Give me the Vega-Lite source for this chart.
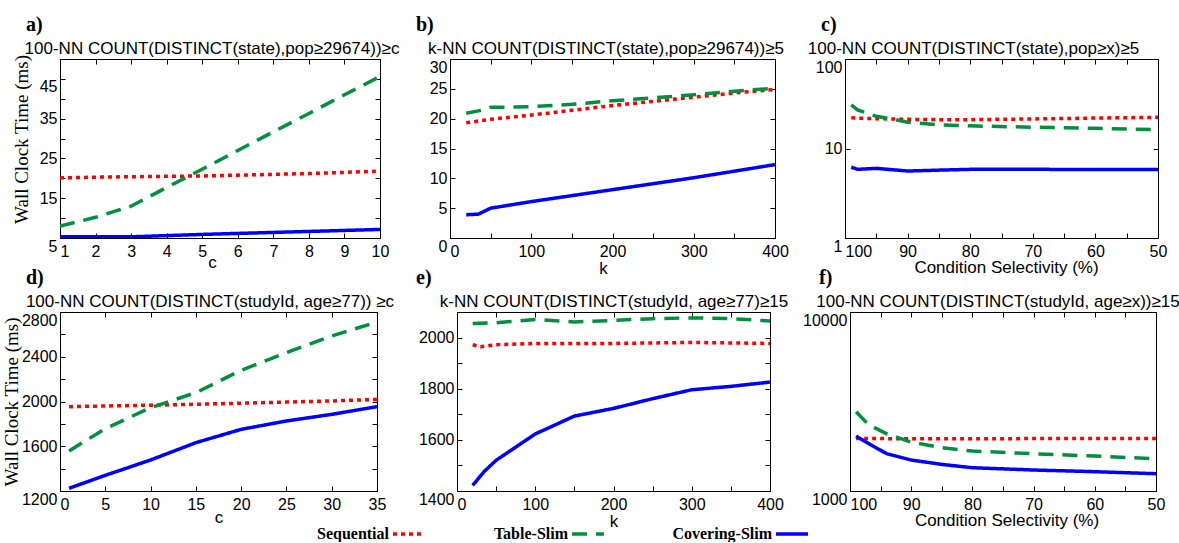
{
  "$schema": "https://vega.github.io/schema/vega-lite/v6.json",
  "padding": {"left": 1, "top": 14, "right": 0, "bottom": 0},
  "background": "white",
  "datasets": {
    "a": [
      {"series": "Sequential", "x": 1, "y": 20.1}, {"series": "Sequential", "x": 2, "y": 20.3}, {"series": "Sequential", "x": 3, "y": 20.4}, {"series": "Sequential", "x": 4, "y": 20.5}, {"series": "Sequential", "x": 5, "y": 20.6}, {"series": "Sequential", "x": 6, "y": 20.8}, {"series": "Sequential", "x": 7, "y": 21.0}, {"series": "Sequential", "x": 8, "y": 21.2}, {"series": "Sequential", "x": 9, "y": 21.5}, {"series": "Sequential", "x": 10, "y": 21.8},
      {"series": "Table-Slim", "x": 1, "y": 8.0}, {"series": "Table-Slim", "x": 2, "y": 10.2}, {"series": "Table-Slim", "x": 3, "y": 13.0}, {"series": "Table-Slim", "x": 4, "y": 17.7}, {"series": "Table-Slim", "x": 5, "y": 22.3}, {"series": "Table-Slim", "x": 6, "y": 27.0}, {"series": "Table-Slim", "x": 7, "y": 31.7}, {"series": "Table-Slim", "x": 8, "y": 36.3}, {"series": "Table-Slim", "x": 9, "y": 41.0}, {"series": "Table-Slim", "x": 10, "y": 45.6},
      {"series": "Covering-Slim", "x": 1, "y": 5.3}, {"series": "Covering-Slim", "x": 2, "y": 5.3}, {"series": "Covering-Slim", "x": 3, "y": 5.3}, {"series": "Covering-Slim", "x": 4, "y": 5.6}, {"series": "Covering-Slim", "x": 5, "y": 5.9}, {"series": "Covering-Slim", "x": 6, "y": 6.15}, {"series": "Covering-Slim", "x": 7, "y": 6.4}, {"series": "Covering-Slim", "x": 8, "y": 6.65}, {"series": "Covering-Slim", "x": 9, "y": 6.9}, {"series": "Covering-Slim", "x": 10, "y": 7.15}
    ],
    "b": [
      {"series": "Sequential", "x": 20, "y": 19.3}, {"series": "Sequential", "x": 30, "y": 19.5}, {"series": "Sequential", "x": 50, "y": 19.9}, {"series": "Sequential", "x": 100, "y": 20.6}, {"series": "Sequential", "x": 150, "y": 21.4}, {"series": "Sequential", "x": 200, "y": 22.2}, {"series": "Sequential", "x": 250, "y": 22.9}, {"series": "Sequential", "x": 300, "y": 23.6}, {"series": "Sequential", "x": 350, "y": 24.3}, {"series": "Sequential", "x": 400, "y": 24.9},
      {"series": "Table-Slim", "x": 20, "y": 20.9}, {"series": "Table-Slim", "x": 35, "y": 21.3}, {"series": "Table-Slim", "x": 50, "y": 21.9}, {"series": "Table-Slim", "x": 100, "y": 22.0}, {"series": "Table-Slim", "x": 150, "y": 22.4}, {"series": "Table-Slim", "x": 200, "y": 23.0}, {"series": "Table-Slim", "x": 250, "y": 23.5}, {"series": "Table-Slim", "x": 300, "y": 24.0}, {"series": "Table-Slim", "x": 350, "y": 24.6}, {"series": "Table-Slim", "x": 400, "y": 25.1},
      {"series": "Covering-Slim", "x": 20, "y": 3.9}, {"series": "Covering-Slim", "x": 35, "y": 4.0}, {"series": "Covering-Slim", "x": 50, "y": 5.0}, {"series": "Covering-Slim", "x": 100, "y": 6.1}, {"series": "Covering-Slim", "x": 150, "y": 7.1}, {"series": "Covering-Slim", "x": 200, "y": 8.1}, {"series": "Covering-Slim", "x": 250, "y": 9.1}, {"series": "Covering-Slim", "x": 300, "y": 10.1}, {"series": "Covering-Slim", "x": 350, "y": 11.2}, {"series": "Covering-Slim", "x": 400, "y": 12.3}
    ],
    "c": [
      {"series": "Sequential", "x": 99, "y": 22.0}, {"series": "Sequential", "x": 95, "y": 21.5}, {"series": "Sequential", "x": 90, "y": 21.2}, {"series": "Sequential", "x": 85, "y": 21.0}, {"series": "Sequential", "x": 80, "y": 21.0}, {"series": "Sequential", "x": 75, "y": 21.2}, {"series": "Sequential", "x": 70, "y": 21.4}, {"series": "Sequential", "x": 65, "y": 21.6}, {"series": "Sequential", "x": 60, "y": 21.9}, {"series": "Sequential", "x": 55, "y": 22.1}, {"series": "Sequential", "x": 50, "y": 22.3},
      {"series": "Table-Slim", "x": 99, "y": 30.7}, {"series": "Table-Slim", "x": 98, "y": 27.0}, {"series": "Table-Slim", "x": 95, "y": 22.9}, {"series": "Table-Slim", "x": 92, "y": 21.1}, {"series": "Table-Slim", "x": 90, "y": 19.7}, {"series": "Table-Slim", "x": 85, "y": 18.4}, {"series": "Table-Slim", "x": 80, "y": 17.9}, {"series": "Table-Slim", "x": 70, "y": 17.3}, {"series": "Table-Slim", "x": 60, "y": 16.8}, {"series": "Table-Slim", "x": 50, "y": 16.2},
      {"series": "Covering-Slim", "x": 99, "y": 6.19}, {"series": "Covering-Slim", "x": 98, "y": 5.85}, {"series": "Covering-Slim", "x": 95, "y": 6.0}, {"series": "Covering-Slim", "x": 90, "y": 5.6}, {"series": "Covering-Slim", "x": 85, "y": 5.73}, {"series": "Covering-Slim", "x": 80, "y": 5.85}, {"series": "Covering-Slim", "x": 70, "y": 5.85}, {"series": "Covering-Slim", "x": 60, "y": 5.83}, {"series": "Covering-Slim", "x": 50, "y": 5.83}
    ],
    "d": [
      {"series": "Sequential", "x": 1, "y": 1954}, {"series": "Sequential", "x": 5, "y": 1960}, {"series": "Sequential", "x": 10, "y": 1967}, {"series": "Sequential", "x": 15, "y": 1975}, {"series": "Sequential", "x": 20, "y": 1985}, {"series": "Sequential", "x": 25, "y": 1995}, {"series": "Sequential", "x": 30, "y": 2005}, {"series": "Sequential", "x": 35, "y": 2019},
      {"series": "Table-Slim", "x": 1, "y": 1558}, {"series": "Table-Slim", "x": 5, "y": 1757}, {"series": "Table-Slim", "x": 10, "y": 1945}, {"series": "Table-Slim", "x": 15, "y": 2079}, {"series": "Table-Slim", "x": 20, "y": 2279}, {"series": "Table-Slim", "x": 25, "y": 2437}, {"series": "Table-Slim", "x": 30, "y": 2586}, {"series": "Table-Slim", "x": 35, "y": 2711},
      {"series": "Covering-Slim", "x": 1, "y": 1224}, {"series": "Covering-Slim", "x": 5, "y": 1340}, {"series": "Covering-Slim", "x": 10, "y": 1477}, {"series": "Covering-Slim", "x": 15, "y": 1632}, {"series": "Covering-Slim", "x": 20, "y": 1751}, {"series": "Covering-Slim", "x": 25, "y": 1826}, {"series": "Covering-Slim", "x": 30, "y": 1885}, {"series": "Covering-Slim", "x": 35, "y": 1954}
    ],
    "e": [
      {"series": "Sequential", "x": 20, "y": 1972}, {"series": "Sequential", "x": 30, "y": 1964}, {"series": "Sequential", "x": 50, "y": 1972}, {"series": "Sequential", "x": 100, "y": 1977}, {"series": "Sequential", "x": 150, "y": 1977}, {"series": "Sequential", "x": 200, "y": 1977}, {"series": "Sequential", "x": 250, "y": 1979}, {"series": "Sequential", "x": 300, "y": 1981}, {"series": "Sequential", "x": 350, "y": 1979}, {"series": "Sequential", "x": 400, "y": 1977},
      {"series": "Table-Slim", "x": 20, "y": 2055}, {"series": "Table-Slim", "x": 50, "y": 2058}, {"series": "Table-Slim", "x": 100, "y": 2071}, {"series": "Table-Slim", "x": 150, "y": 2061}, {"series": "Table-Slim", "x": 200, "y": 2067}, {"series": "Table-Slim", "x": 250, "y": 2074}, {"series": "Table-Slim", "x": 300, "y": 2077}, {"series": "Table-Slim", "x": 350, "y": 2074}, {"series": "Table-Slim", "x": 400, "y": 2065},
      {"series": "Covering-Slim", "x": 20, "y": 1422}, {"series": "Covering-Slim", "x": 35, "y": 1477}, {"series": "Covering-Slim", "x": 50, "y": 1520}, {"series": "Covering-Slim", "x": 100, "y": 1623}, {"series": "Covering-Slim", "x": 150, "y": 1693}, {"series": "Covering-Slim", "x": 200, "y": 1723}, {"series": "Covering-Slim", "x": 250, "y": 1761}, {"series": "Covering-Slim", "x": 300, "y": 1796}, {"series": "Covering-Slim", "x": 350, "y": 1809}, {"series": "Covering-Slim", "x": 400, "y": 1826}
    ],
    "f": [
      {"series": "Sequential", "x": 99, "y": 1965}, {"series": "Sequential", "x": 95, "y": 1962}, {"series": "Sequential", "x": 90, "y": 1960}, {"series": "Sequential", "x": 80, "y": 1960}, {"series": "Sequential", "x": 70, "y": 1962}, {"series": "Sequential", "x": 60, "y": 1963}, {"series": "Sequential", "x": 50, "y": 1965},
      {"series": "Table-Slim", "x": 99, "y": 2769}, {"series": "Table-Slim", "x": 97, "y": 2353}, {"series": "Table-Slim", "x": 94, "y": 2088}, {"series": "Table-Slim", "x": 90, "y": 1875}, {"series": "Table-Slim", "x": 85, "y": 1744}, {"series": "Table-Slim", "x": 80, "y": 1671}, {"series": "Table-Slim", "x": 70, "y": 1615}, {"series": "Table-Slim", "x": 60, "y": 1567}, {"series": "Table-Slim", "x": 50, "y": 1515},
      {"series": "Covering-Slim", "x": 99, "y": 2026}, {"series": "Covering-Slim", "x": 97, "y": 1845}, {"series": "Covering-Slim", "x": 94, "y": 1615}, {"series": "Covering-Slim", "x": 90, "y": 1489}, {"series": "Covering-Slim", "x": 85, "y": 1408}, {"series": "Covering-Slim", "x": 80, "y": 1349}, {"series": "Covering-Slim", "x": 70, "y": 1310}, {"series": "Covering-Slim", "x": 60, "y": 1282}, {"series": "Covering-Slim", "x": 50, "y": 1249}
    ]
  },
  "concat": [
    {
      "hconcat": [
        {
          "width": 320, "height": 179,
          "title": {"text": "a)", "dx": -34},
          "data": {"name": "a"},
          "layer": [
            {
              "mark": {"type": "line", "strokeWidth": 3.5, "clip": true},
              "encoding": {
                "x": {"field": "x", "type": "quantitative", "scale": {"domain": [1, 10]},
                  "axis": {"values": [1, 2, 3, 4, 5, 6, 7, 8, 9, 10], "title": "c", "titlePadding": -5, "titleX": 152,
                    "labelAlign": {"condition": {"test": "datum.value == 1", "value": "left"}, "value": "center"}}},
                "y": {"field": "y", "type": "quantitative", "scale": {"domain": [5, 50]},
                  "axis": {"values": [5, 10, 15, 20, 25, 30, 35, 40, 45, 50], "labelExpr": "datum.value % 10 == 5 ? datum.label : ''",
                    "title": "Wall Clock Time (ms)", "titlePadding": 8, "titleY": 80,
                    "labelBaseline": {"condition": {"test": "datum.value == 5 || datum.value == 45", "value": "top"}, "value": "middle"}}},
                "color": {"field": "series", "type": "nominal", "scale": {"domain": ["Sequential", "Table-Slim", "Covering-Slim"], "range": ["#ff0000", "#00913f", "#0000ff"]}, "legend": {"title": null}},
                "strokeDash": {"field": "series", "type": "nominal", "scale": {"domain": ["Sequential", "Table-Slim", "Covering-Slim"], "range": [[4, 4], [15, 9], [1, 0]]}, "legend": {"title": null}}
              }
            },
            {
              "mark": {"type": "line", "opacity": 0},
              "encoding": {
                "x": {"field": "x", "type": "quantitative", "scale": {"domain": [1, 10]},
                  "axis": {"orient": "top", "values": [1, 2, 3, 4, 5, 6, 7, 8, 9, 10], "labels": false, "title": "100-NN COUNT(DISTINCT(state),pop≥29674))≥c", "titleX": 151.5}},
                "y": {"field": "y", "type": "quantitative", "scale": {"domain": [5, 50]},
                  "axis": {"orient": "right", "values": [5, 10, 15, 20, 25, 30, 35, 40, 45, 50], "labels": false, "title": null}},
                "detail": {"field": "series"}
              }
            }
          ],
          "resolve": {"axis": {"x": "independent", "y": "independent"}}
        },
        {
          "width": 325, "height": 179,
          "title": {"text": "b)", "dx": -34},
          "data": {"name": "b"},
          "layer": [
            {
              "mark": {"type": "line", "strokeWidth": 3.5, "clip": true},
              "encoding": {
                "x": {"field": "x", "type": "quantitative", "scale": {"domain": [0, 400]},
                  "axis": {"values": [0, 50, 100, 150, 200, 250, 300, 350, 400], "labelExpr": "datum.value % 100 == 0 ? datum.label : ''", "title": "k", "titleX": 153, "titlePadding": 1,
                    "labelAlign": {"condition": {"test": "datum.value == 0", "value": "left"}, "value": "center"}}},
                "y": {"field": "y", "type": "quantitative", "scale": {"domain": [0, 30]},
                  "axis": {"values": [0, 5, 10, 15, 20, 25, 30], "title": null,
                    "labelBaseline": {"condition": {"test": "datum.value == 0 || datum.value == 30", "value": "top"}, "value": "middle"}}},
                "color": {"field": "series", "type": "nominal", "scale": {"domain": ["Sequential", "Table-Slim", "Covering-Slim"], "range": ["#ff0000", "#00913f", "#0000ff"]}, "legend": {"title": null}},
                "strokeDash": {"field": "series", "type": "nominal", "scale": {"domain": ["Sequential", "Table-Slim", "Covering-Slim"], "range": [[4, 4], [15, 9], [1, 0]]}, "legend": {"title": null}}
              }
            },
            {
              "mark": {"type": "line", "opacity": 0},
              "encoding": {
                "x": {"field": "x", "type": "quantitative", "scale": {"domain": [0, 400]},
                  "axis": {"orient": "top", "values": [0, 50, 100, 150, 200, 250, 300, 350, 400], "labels": false, "title": "k-NN COUNT(DISTINCT(state),pop≥29674))≥5", "titleX": 155.5}},
                "y": {"field": "y", "type": "quantitative", "scale": {"domain": [0, 30]},
                  "axis": {"orient": "right", "values": [0, 5, 10, 15, 20, 25, 30], "labels": false, "title": null}},
                "detail": {"field": "series"}
              }
            }
          ],
          "resolve": {"axis": {"x": "independent", "y": "independent"}}
        },
        {
          "width": 313, "height": 179,
          "title": {"text": "c)", "dx": -24},
          "data": {"name": "c"},
          "layer": [
            {
              "mark": {"type": "line", "strokeWidth": 3.5, "clip": true},
              "encoding": {
                "x": {"field": "x", "type": "quantitative", "scale": {"domain": [50, 100], "reverse": true},
                  "axis": {"values": [50, 55, 60, 65, 70, 75, 80, 85, 90, 95, 100], "labelExpr": "datum.value % 10 == 0 ? datum.label : ''", "title": "Condition Selectivity (%)", "titleX": 161, "titlePadding": 0,
                    "labelAlign": {"condition": {"test": "datum.value == 100", "value": "left"}, "value": "center"}}},
                "y": {"field": "y", "type": "quantitative", "scale": {"type": "log", "domain": [1, 100]},
                  "axis": {"values": [1, 10, 100], "format": "d", "title": null,
                    "labelBaseline": {"condition": {"test": "datum.value == 1 || datum.value == 100", "value": "top"}, "value": "middle"}}},
                "color": {"field": "series", "type": "nominal", "scale": {"domain": ["Sequential", "Table-Slim", "Covering-Slim"], "range": ["#ff0000", "#00913f", "#0000ff"]}, "legend": {"title": null}},
                "strokeDash": {"field": "series", "type": "nominal", "scale": {"domain": ["Sequential", "Table-Slim", "Covering-Slim"], "range": [[4, 4], [15, 9], [1, 0]]}, "legend": {"title": null}}
              }
            },
            {
              "mark": {"type": "line", "opacity": 0},
              "encoding": {
                "x": {"field": "x", "type": "quantitative", "scale": {"domain": [50, 100], "reverse": true},
                  "axis": {"orient": "top", "values": [50, 55, 60, 65, 70, 75, 80, 85, 90, 95, 100], "labels": false, "title": "100-NN COUNT(DISTINCT(state),pop≥x)≥5", "titleX": 128}},
                "y": {"field": "y", "type": "quantitative", "scale": {"type": "log", "domain": [1, 100]},
                  "axis": {"orient": "right", "values": [1, 10, 100], "labels": false, "title": null}},
                "detail": {"field": "series"}
              }
            }
          ],
          "resolve": {"axis": {"x": "independent", "y": "independent"}}
        }
      ],
      "spacing": 70,
      "bounds": "flush",
      "resolve": {"scale": {"color": "shared", "strokeDash": "shared"}, "legend": {"color": "shared", "strokeDash": "shared"}}
    },
    {
      "hconcat": [
        {
          "width": 317, "height": 179,
          "title": {"text": "d)", "dx": -34},
          "data": {"name": "d"},
          "layer": [
            {
              "mark": {"type": "line", "strokeWidth": 3.5, "clip": true},
              "encoding": {
                "x": {"field": "x", "type": "quantitative", "scale": {"domain": [0, 35]},
                  "axis": {"values": [0, 5, 10, 15, 20, 25, 30, 35], "title": "c", "titlePadding": -3,
                    "labelAlign": {"condition": {"test": "datum.value == 0", "value": "left"}, "value": "center"}}},
                "y": {"field": "y", "type": "quantitative", "scale": {"domain": [1200, 2800]},
                  "axis": {"values": [1200, 1400, 1600, 1800, 2000, 2200, 2400, 2600, 2800], "format": "d", "labelExpr": "(datum.value - 1200) % 400 == 0 ? datum.label : ''",
                    "title": "Wall Clock Time (ms)", "titlePadding": 0,
                    "labelBaseline": {"condition": {"test": "datum.value == 1200 || datum.value == 2800", "value": "top"}, "value": "middle"}}},
                "color": {"field": "series", "type": "nominal", "scale": {"domain": ["Sequential", "Table-Slim", "Covering-Slim"], "range": ["#ff0000", "#00913f", "#0000ff"]}, "legend": {"title": null}},
                "strokeDash": {"field": "series", "type": "nominal", "scale": {"domain": ["Sequential", "Table-Slim", "Covering-Slim"], "range": [[4, 4], [15, 9], [1, 0]]}, "legend": {"title": null}}
              }
            },
            {
              "mark": {"type": "line", "opacity": 0},
              "encoding": {
                "x": {"field": "x", "type": "quantitative", "scale": {"domain": [0, 35]},
                  "axis": {"orient": "top", "values": [0, 5, 10, 15, 20, 25, 30, 35], "labels": false, "title": "100-NN COUNT(DISTINCT(studyId, age≥77)) ≥c", "titleX": 149.5}},
                "y": {"field": "y", "type": "quantitative", "scale": {"domain": [1200, 2800]},
                  "axis": {"orient": "right", "values": [1200, 1400, 1600, 1800, 2000, 2200, 2400, 2600, 2800], "labels": false, "title": null}},
                "detail": {"field": "series"}
              }
            }
          ],
          "resolve": {"axis": {"x": "independent", "y": "independent"}}
        },
        {
          "width": 313, "height": 179,
          "title": {"text": "e)", "dx": -41},
          "data": {"name": "e"},
          "layer": [
            {
              "mark": {"type": "line", "strokeWidth": 3.5, "clip": true},
              "encoding": {
                "x": {"field": "x", "type": "quantitative", "scale": {"domain": [0, 400]},
                  "axis": {"values": [0, 50, 100, 150, 200, 250, 300, 350, 400], "labelExpr": "datum.value % 100 == 0 ? datum.label : ''", "title": "k", "titlePadding": 1,
                    "labelAlign": {"condition": {"test": "datum.value == 0", "value": "left"}, "value": "center"}}},
                "y": {"field": "y", "type": "quantitative", "scale": {"domain": [1400, 2100]},
                  "axis": {"values": [1400, 1500, 1600, 1700, 1800, 1900, 2000, 2100], "format": "d", "labelExpr": "datum.value % 200 == 0 ? datum.label : ''", "title": null,
                    "labelBaseline": {"condition": {"test": "datum.value == 1400", "value": "top"}, "value": "middle"}}},
                "color": {"field": "series", "type": "nominal", "scale": {"domain": ["Sequential", "Table-Slim", "Covering-Slim"], "range": ["#ff0000", "#00913f", "#0000ff"]}, "legend": {"title": null}},
                "strokeDash": {"field": "series", "type": "nominal", "scale": {"domain": ["Sequential", "Table-Slim", "Covering-Slim"], "range": [[4, 4], [15, 9], [1, 0]]}, "legend": {"title": null}}
              }
            },
            {
              "mark": {"type": "line", "opacity": 0},
              "encoding": {
                "x": {"field": "x", "type": "quantitative", "scale": {"domain": [0, 400]},
                  "axis": {"orient": "top", "values": [0, 50, 100, 150, 200, 250, 300, 350, 400], "labels": false, "title": "k-NN COUNT(DISTINCT(studyId, age≥77)≥15", "titleX": 156.5}},
                "y": {"field": "y", "type": "quantitative", "scale": {"domain": [1400, 2100]},
                  "axis": {"orient": "right", "values": [1400, 1500, 1600, 1700, 1800, 1900, 2000, 2100], "labels": false, "title": null}},
                "detail": {"field": "series"}
              }
            }
          ],
          "resolve": {"axis": {"x": "independent", "y": "independent"}}
        },
        {
          "width": 306, "height": 179,
          "title": {"text": "f)", "dx": -31},
          "data": {"name": "f"},
          "layer": [
            {
              "mark": {"type": "line", "strokeWidth": 3.5, "clip": true},
              "encoding": {
                "x": {"field": "x", "type": "quantitative", "scale": {"domain": [50, 100], "reverse": true},
                  "axis": {"values": [50, 55, 60, 65, 70, 75, 80, 85, 90, 95, 100], "labelExpr": "datum.value % 10 == 0 ? datum.label : ''", "title": "Condition Selectivity (%)", "titleX": 156.5, "titlePadding": 0,
                    "labelAlign": {"condition": {"test": "datum.value == 100", "value": "left"}, "value": "center"}}},
                "y": {"field": "y", "type": "quantitative", "scale": {"type": "log", "domain": [1000, 10000]},
                  "axis": {"values": [1000, 10000], "format": "d", "title": null,
                    "labelBaseline": {"condition": {"test": "datum.value == 1000 || datum.value == 10000", "value": "top"}, "value": "middle"}}},
                "color": {"field": "series", "type": "nominal", "scale": {"domain": ["Sequential", "Table-Slim", "Covering-Slim"], "range": ["#ff0000", "#00913f", "#0000ff"]}, "legend": {"title": null}},
                "strokeDash": {"field": "series", "type": "nominal", "scale": {"domain": ["Sequential", "Table-Slim", "Covering-Slim"], "range": [[4, 4], [15, 9], [1, 0]]}, "legend": {"title": null}}
              }
            },
            {
              "mark": {"type": "line", "opacity": 0},
              "encoding": {
                "x": {"field": "x", "type": "quantitative", "scale": {"domain": [50, 100], "reverse": true},
                  "axis": {"orient": "top", "values": [50, 55, 60, 65, 70, 75, 80, 85, 90, 95, 100], "labels": false, "title": "100-NN COUNT(DISTINCT(studyId, age≥x))≥15", "titleX": 147.5}},
                "y": {"field": "y", "type": "quantitative", "scale": {"type": "log", "domain": [1000, 10000]},
                  "axis": {"orient": "right", "values": [1000, 10000], "labels": false, "title": null}},
                "detail": {"field": "series"}
              }
            }
          ],
          "resolve": {"axis": {"x": "independent", "y": "independent"}}
        }
      ],
      "spacing": 80,
      "bounds": "flush",
      "resolve": {"scale": {"color": "shared", "strokeDash": "shared"}, "legend": {"color": "shared", "strokeDash": "shared"}}
    }
  ],
  "columns": 1,
  "spacing": -10,
  "resolve": {"scale": {"color": "shared", "strokeDash": "shared"}, "legend": {"color": "shared", "strokeDash": "shared"}},
  "config": {
    "font": "Liberation Sans",
    "view": {"stroke": "black", "strokeWidth": 1},
    "axis": {"grid": false, "domain": false, "tickColor": "black", "tickSize": -5, "tickWidth": 1,
      "labelFont": "Liberation Sans", "labelFontSize": 16, "labelColor": "black", "labelFlush": false, "labelOverlap": false,
      "titleColor": "black", "titleFontWeight": "normal"},
    "axisBottom": {"labelPadding": 10, "titleFont": "Liberation Sans", "titleFontSize": 17, "titlePadding": -1},
    "axisLeft": {"labelPadding": 8, "titleFont": "Liberation Serif", "titleFontSize": 19},
    "axisTop": {"titleFont": "Liberation Sans", "titleFontSize": 17, "titlePadding": 1},
    "title": {"anchor": "start", "frame": "group", "font": "Liberation Serif", "fontSize": 20, "fontWeight": "bold", "color": "black", "offset": 5},
    "legend": {"orient": "none", "legendX": 331, "legendY": 457, "direction": "horizontal", "symbolType": "stroke", "symbolSize": 1024, "symbolStrokeWidth": 3.5,
      "labelFont": "Liberation Serif", "labelFontSize": 16, "labelFontWeight": "bold", "labelColor": "black", "labelAlign": "right", "labelOffset": -38, "columnPadding": 61, "padding": 0}
  }
}
